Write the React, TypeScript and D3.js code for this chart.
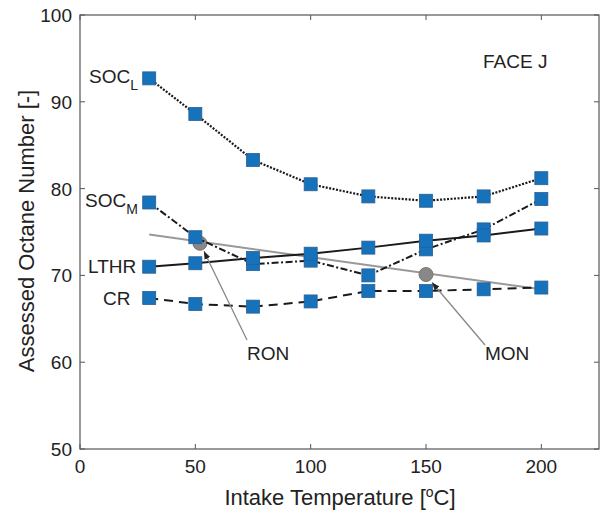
import React from "react";
import * as d3 from "d3";

const temps = [30, 50, 75, 100, 125, 150, 175, 200];
const socL = [92.7, 88.6, 83.3, 80.5, 79.1, 78.6, 79.1, 81.2];
const socM = [78.4, 74.4, 71.3, 71.7, 70.0, 73.0, 75.3, 78.8];
const lthr = [71.0, 71.4, 72.0, 72.5, 73.2, 74.0, 74.6, 75.4];
const cr = [67.4, 66.7, 66.4, 67.0, 68.2, 68.2, 68.4, 68.6];
const ronMonLine = [
  { t: 30, v: 74.7 },
  { t: 200, v: 68.4 },
];
const ron = { t: 52, v: 73.7 };
const mon = { t: 150, v: 70.1 };
const xTicks = [0, 50, 100, 150, 200];
const yTicks = [50, 60, 70, 80, 90, 100];

const W = 600;
const H = 515;
const L = 80;
const R = 599;
const T = 15;
const B = 449;

export default function App() {
  const x = d3.scaleLinear().domain([0, 225]).range([L, R]);
  const y = d3.scaleLinear().domain([50, 100]).range([B, T]);
  const line = d3
    .line<number>()
    .x((_, i) => x(temps[i]))
    .y((d) => y(d));
  const gline = d3
    .line<{ t: number; v: number }>()
    .x((d) => x(d.t))
    .y((d) => y(d.v));

  const font = "'Liberation Sans', Arial, Helvetica, sans-serif";
  const txt = "#222";
  const axisCol = "#555";
  const sq = 13;
  const fs = 19;

  const series = [
    { data: socL, dash: "2,1.5", width: 2.2 },
    { data: socM, dash: "7,2.5,2,2.5", width: 2 },
    { data: lthr, dash: "", width: 2 },
    { data: cr, dash: "9,6", width: 2 },
  ];

  return (
    <svg
      width={W}
      height={H}
      style={{ position: "absolute", left: 0, top: 0, background: "#fff" }}
      fontFamily={font}
    >
      <defs>
        <marker
          id="arr"
          viewBox="0 0 10 10"
          refX="10"
          refY="5"
          markerWidth="6"
          markerHeight="6"
          orient="auto"
        >
          <path d="M0,1 L10,5 L0,9 z" fill="#222" />
        </marker>
      </defs>
      <rect x={0} y={0} width={W} height={H} fill="#fff" />

      {/* grey RON-MON line */}
      <path d={gline(ronMonLine) || ""} fill="none" stroke="#999" strokeWidth={2} />
      <circle cx={x(ron.t)} cy={y(ron.v)} r={7} fill="#888" stroke="#777" />
      <circle cx={x(mon.t)} cy={y(mon.v)} r={7} fill="#888" stroke="#777" />

      {/* series */}
      {series.map((s, k) => (
        <path
          key={"l" + k}
          d={line(s.data) || ""}
          fill="none"
          stroke="#1a1a1a"
          strokeWidth={s.width}
          strokeDasharray={s.dash || undefined}
        />
      ))}
      {series.map((s, k) =>
        s.data.map((v, i) => (
          <rect
            key={"m" + k + "-" + i}
            x={x(temps[i]) - sq / 2}
            y={y(v) - sq / 2}
            width={sq}
            height={sq}
            fill="#1672BA"
            stroke="#2a5f94"
            strokeWidth={0.8}
          />
        ))
      )}

      {/* arrows */}
      <line x1={247} y1={340} x2={x(ron.t) + 4} y2={y(ron.v) + 8} stroke="#888" strokeWidth={1.3} markerEnd="url(#arr)" />
      <line x1={485} y1={345} x2={x(mon.t) + 6} y2={y(mon.v) + 8} stroke="#888" strokeWidth={1.3} markerEnd="url(#arr)" />

      {/* axes box */}
      <rect x={L} y={T} width={R - L} height={B - T} fill="none" stroke={axisCol} strokeWidth={1.2} />
      {xTicks.map((t) => (
        <g key={"xt" + t}>
          <line x1={x(t)} x2={x(t)} y1={B} y2={B - 5} stroke={axisCol} />
          <line x1={x(t)} x2={x(t)} y1={T} y2={T + 5} stroke={axisCol} />
          <text x={x(t)} y={B + 24} textAnchor="middle" fontSize={fs} fill={txt}>
            {t}
          </text>
        </g>
      ))}
      {yTicks.map((t) => (
        <g key={"yt" + t}>
          <line x1={L} x2={L + 5} y1={y(t)} y2={y(t)} stroke={axisCol} />
          <line x1={R} x2={R - 5} y1={y(t)} y2={y(t)} stroke={axisCol} />
          <text x={L - 8} y={y(t) + 7} textAnchor="end" fontSize={fs} fill={txt}>
            {t}
          </text>
        </g>
      ))}

      {/* axis labels */}
      <text x={340} y={505} textAnchor="middle" fontSize={22} fill={txt}>
        Intake Temperature [
        <tspan dy={-8} fontSize={14}>o</tspan>
        <tspan dy={8}>C]</tspan>
      </text>
      <text
        transform={`translate(34,231) rotate(-90)`}
        textAnchor="middle"
        fontSize={22}
        fill={txt}
      >
        Assessed Octane Number [-]
      </text>

      {/* series labels */}
      <text x={89} y={83} fontSize={fs} fill={txt}>
        SOC<tspan dy={7} fontSize={14}>L</tspan>
      </text>
      <text x={85} y={207} fontSize={fs} fill={txt}>
        SOC<tspan dy={7} fontSize={14}>M</tspan>
      </text>
      <text x={88} y={273} fontSize={fs} fill={txt}>
        LTHR
      </text>
      <text x={103} y={305} fontSize={fs} fill={txt}>
        CR
      </text>
      <text x={247} y={360} fontSize={fs} fill={txt}>
        RON
      </text>
      <text x={485} y={360} fontSize={fs} fill={txt}>
        MON
      </text>
      <text x={483} y={68} fontSize={fs} fill={txt}>
        FACE J
      </text>
    </svg>
  );
}
